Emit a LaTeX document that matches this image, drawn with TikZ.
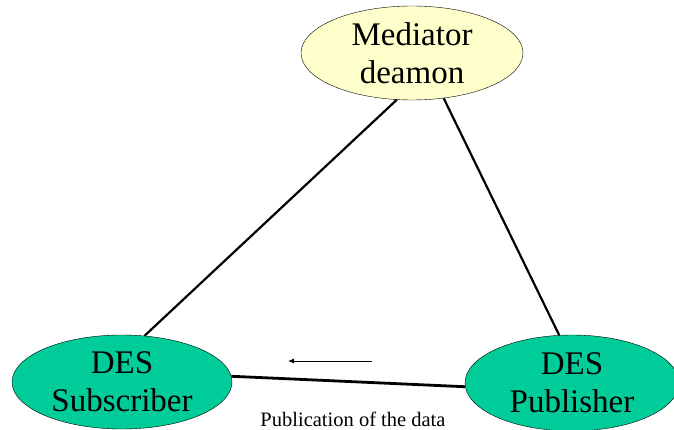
\documentclass[tikz,border=0pt]{standalone}
\usepackage{fontspec}
\setmainfont{Liberation Serif}
\usetikzlibrary{shapes.geometric,arrows.meta}
\definecolor{medfill}{HTML}{FFFFCC}
\definecolor{desfill}{HTML}{00CC99}
\begin{document}
\begin{tikzpicture}[->,>={Latex[length=6pt,width=5pt]},x=1pt,y=-1pt,
  blob/.style={ellipse,draw,thin,inner sep=0pt,align=center,
    font=\fontsize{33}{38}\selectfont},
  link/.style={draw,-,line width=2.2pt}]

\useasboundingbox (0,0) rectangle (674,430);

\node [blob,fill=medfill,minimum width=222pt,minimum height=94pt] (med) at (412,53) {Mediator\\deamon};
\node [blob,fill=desfill,minimum width=220pt,minimum height=94pt] (sub) at (122,382) {DES\\Subscriber};
\node [blob,fill=desfill,minimum width=214pt,minimum height=96pt] (pub) at (572,383) {DES\\Publisher};

\node (lbl) at (353,419) {\fontsize{20.5}{24}\selectfont Publication of the data};

\path [link]
    (med.252) -- (sub.64)
    (med.305) -- (pub.105)
;
\draw [-,line width=2.8pt] (sub.3) -- (pub.182);

\coordinate (p) at (372,361);
\coordinate (q) at (288,361);
\draw [line width=1pt] (p) -- (q);

\end{tikzpicture}
\end{document}
